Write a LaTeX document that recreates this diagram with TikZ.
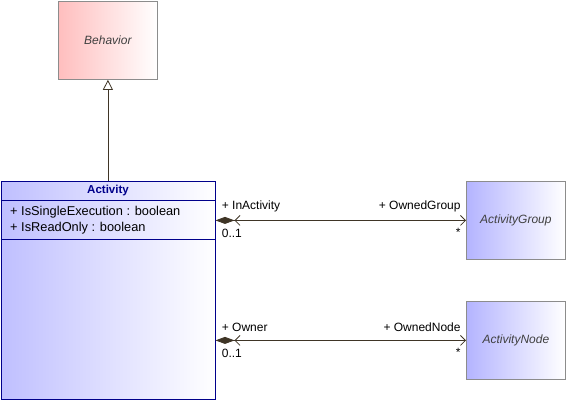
\documentclass[tikz,border=0pt]{standalone}
\usepackage{fontspec}
\setmainfont{Liberation Sans}
\usetikzlibrary{arrows.meta,calc}
\definecolor{lineclr}{HTML}{3F3526}
\definecolor{boxgray}{HTML}{8C8C8C}
\definecolor{clsblue}{HTML}{00008B}
\definecolor{bluefill}{HTML}{B4B4FF}
\definecolor{redfill}{HTML}{FFBEBE}
\tikzset{
	umlbox/.style={draw=boxgray, line width=0.8pt, anchor=north west, minimum width=99pt, minimum height=78pt, inner sep=0pt,
			font=\fontsize{12}{14}\selectfont\itshape, text=black!75},
	assoc/.style={draw=lineclr, line width=0.8pt,
			{Diamond[length=19pt,width=7pt,fill=lineclr]Straight Barb[length=5pt,width=10pt,line width=0.8pt]}-{Straight Barb[length=5pt,width=10pt,line width=0.8pt]}},
	lbl/.style={font=\fontsize{12}{14}\selectfont, inner sep=0pt}
}

\begin{document}
\begin{tikzpicture}[x=1pt,y=-1pt]
		\useasboundingbox (0,0) rectangle (566,400);
		\node[umlbox, left color=redfill, right color=white] (behavior) at (58,1) {Behavior};
		\node[umlbox, left color=bluefill, right color=white] (group) at (466,181) {ActivityGroup};
		\node[umlbox, left color=bluefill, right color=white] (actnode) at (466,301) {ActivityNode};
		\node[draw=clsblue, line width=1pt, anchor=north west, minimum width=214pt, minimum height=218pt, inner sep=0pt,
			left color=bluefill!85, right color=white] (activity) at (0.5,180.5) {};
		\node[lbl, font=\fontsize{11.5}{13}\selectfont\bfseries, text=clsblue] (actname) at ($(activity.north)+(0,10)$) {Activity};
		\draw[clsblue, line width=1pt] ($(activity.north west)+(0,20)$) -- ($(activity.north east)+(0,20)$);
		\draw[clsblue, line width=1pt] ($(activity.north west)+(0,59)$) -- ($(activity.north east)+(0,59)$);
		\node[lbl, font=\fontsize{12.8}{14}\selectfont, anchor=west] (attr1) at (10,212) {+ IsSingleExecution : boolean};
		\node[lbl, font=\fontsize{12.8}{14}\selectfont, anchor=west] (attr2) at (10,228) {+ IsReadOnly : boolean};
		% generalization
		\draw[lineclr, line width=0.8pt, -{Triangle[open, length=10pt, width=10pt, fill=white]}] (activity.north -| behavior.south) -- (behavior.south);
		% associations
		\draw[assoc] (activity.east |- group.west) -- (group.west)
			node[lbl, pos=0, anchor=south west, xshift=6pt, yshift=8pt] {+ InActivity}
			node[lbl, pos=0, anchor=north west, xshift=6pt, yshift=-8pt] {0..1}
			node[lbl, pos=1, anchor=south east, xshift=-5pt, yshift=8pt] {+ OwnedGroup}
			node[lbl, pos=1, anchor=north east, xshift=-5pt, yshift=-7pt] {*};
		\draw[assoc] (activity.east |- actnode.west) -- (actnode.west)
			node[lbl, pos=0, anchor=south west, xshift=6pt, yshift=8pt] {+ Owner}
			node[lbl, pos=0, anchor=north west, xshift=6pt, yshift=-8pt] {0..1}
			node[lbl, pos=1, anchor=south east, xshift=-5pt, yshift=8pt] {+ OwnedNode}
			node[lbl, pos=1, anchor=north east, xshift=-5pt, yshift=-7pt] {*};
	\end{tikzpicture}
\end{document}
